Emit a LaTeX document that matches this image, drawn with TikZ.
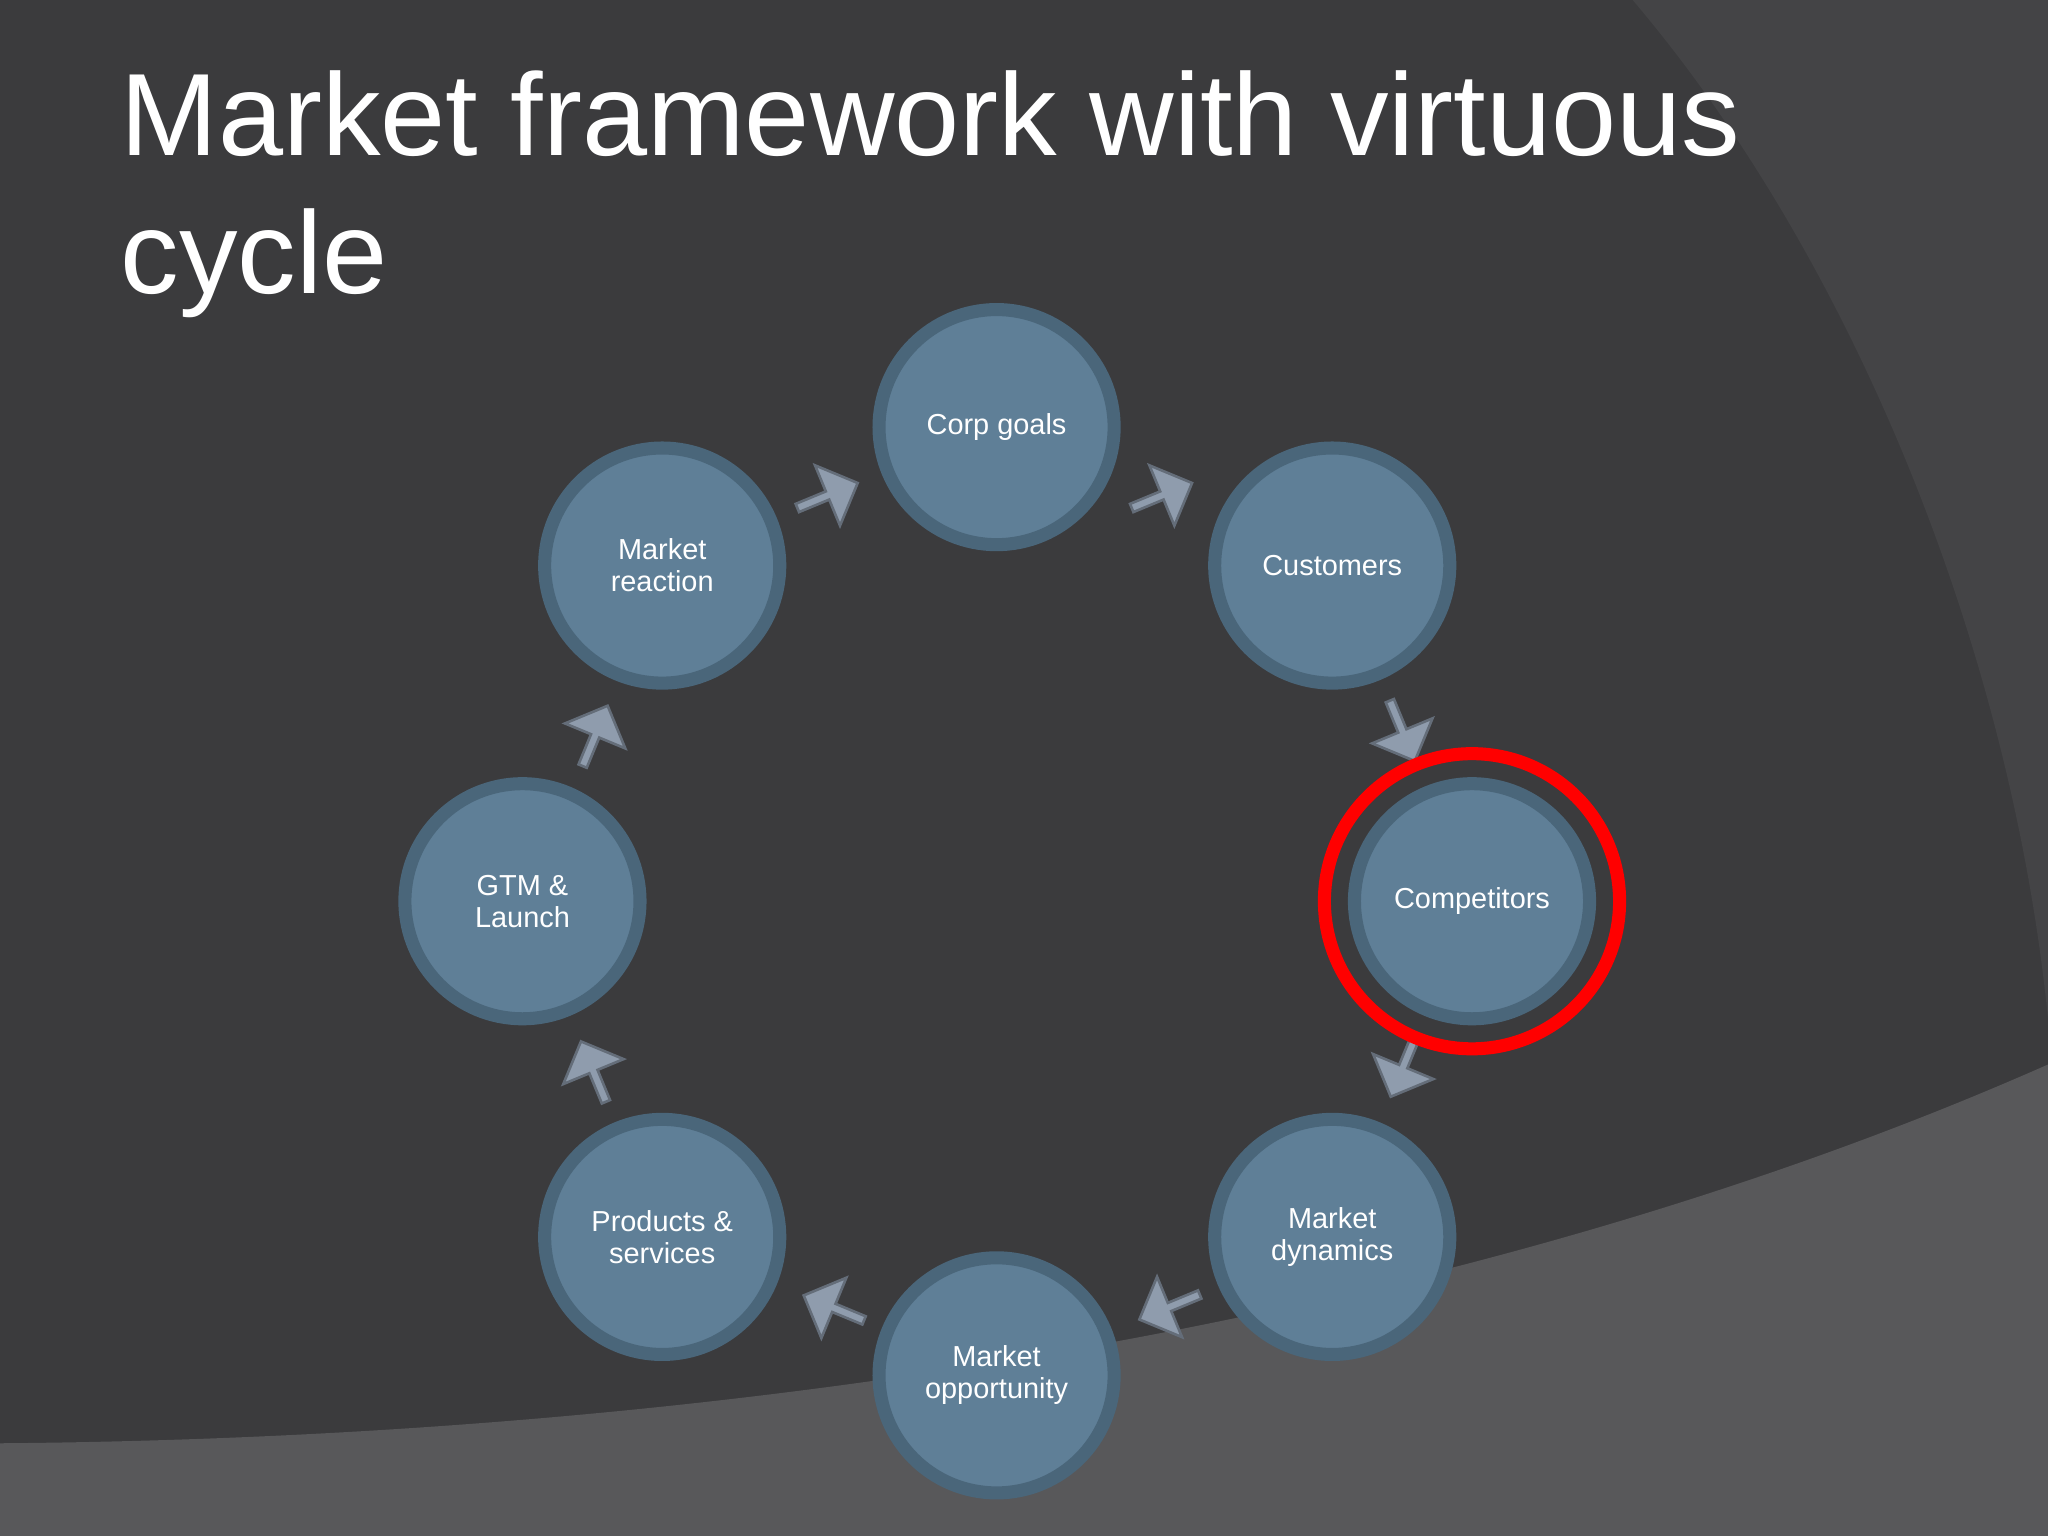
\documentclass[tikz,border=0pt]{standalone}
\usepackage{fontspec}
\setmainfont{Liberation Sans}
\usetikzlibrary{shapes.arrows}
\definecolor{bg}{HTML}{3B3B3D}
\definecolor{bg2}{HTML}{444446}
\definecolor{bg3}{HTML}{58585A}
\definecolor{ball}{HTML}{5F7F97}
\definecolor{ballrim}{HTML}{4A667A}
\definecolor{arr}{HTML}{8F9CAD}
\tikzset{
 ball/.style={circle,minimum size=18mm,fill=ball,draw=ballrim,line width=1mm,text=white,align=center,font=\fontsize{6.3pt}{7pt}\selectfont,inner sep=0pt},
 blockarrow/.style={single arrow,fill=arr,draw=arr!70!black,line width=0.2mm,minimum height=5mm,minimum width=5mm,single arrow head extend=0.9mm,inner sep=0pt,shape border uses incircle}
}
\begin{document}
\begin{tikzpicture}[x=0.1mm,y=-0.1mm]
\useasboundingbox (0,0) rectangle (1568,1176);
\fill[bg] (0,0) rectangle (1568,1176);
\fill[bg2] (1250,0) .. controls (1420,200) and (1540,500) .. (1568,780) -- (1568,0) -- cycle;
\fill[bg3] (0,1105) .. controls (600,1100) and (1150,1000) .. (1568,815) -- (1568,1176) -- (0,1176) -- cycle;
\node[anchor=north west,text=white,align=left,font=\fontsize{25.5pt}{30pt}\selectfont] (title) at (80,42) {Market framework with virtuous\\cycle};
\node[ball] (cg) at (763,327) {Corp goals};
\node[ball] (cu) at (1020,433) {Customers};
\node[ball] (co) at (1127,690) {Competitors};
\node[ball] (md) at (1020,947) {Market\\dynamics};
\node[ball] (mo) at (763,1053) {Market\\opportunity};
\node[ball] (ps) at (507,947) {Products \&\\services};
\node[ball] (gl) at (400,690) {GTM \&\\Launch};
\node[ball] (mr) at (507,433) {Market\\reaction};
\node[blockarrow,rotate=22.5] (a1) at (888,380) {};
\node[blockarrow,rotate=-67.5] (a2) at (1073,558) {};
\node[blockarrow,rotate=-112.5] (a3) at (1075,815) {};
\node[blockarrow,rotate=-157.5] (a4) at (897,1000) {};
\node[blockarrow,rotate=157.5] (a5) at (640,1002) {};
\node[blockarrow,rotate=112.5] (a6) at (455,822) {};
\node[blockarrow,rotate=67.5] (a7) at (455,565) {};
\node[blockarrow,rotate=22.5] (a8) at (632,380) {};
\draw[red,line width=1mm] (co) circle (113);
\end{tikzpicture}
\end{document}
